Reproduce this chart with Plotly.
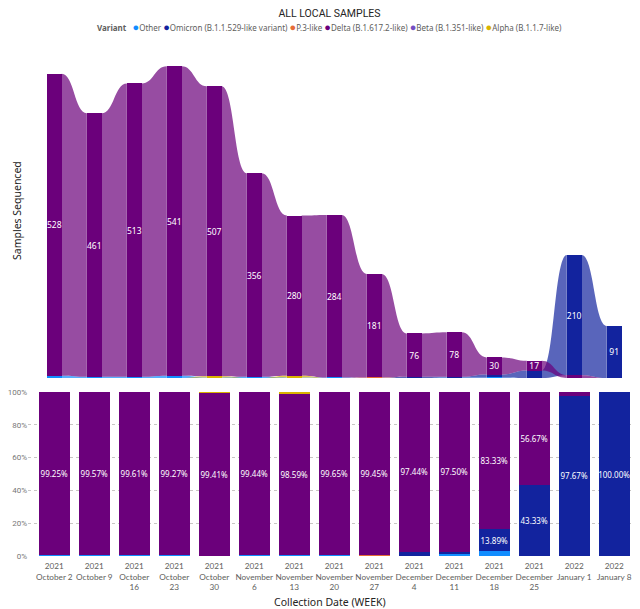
import numpy as np
import plotly.graph_objects as go

# weekly sample counts per variant
weeks = ["2021<br>October 2", "2021<br>October 9", "2021<br>October<br>16", "2021<br>October<br>23",
         "2021<br>October<br>30", "2021<br>November<br>6", "2021<br>November<br>13", "2021<br>November<br>20",
         "2021<br>November<br>27", "2021<br>December<br>4", "2021<br>December<br>11", "2021<br>December<br>18",
         "2021<br>December<br>25", "2022<br>January 1", "2022<br>January 8"]
other   = [4, 2, 2, 4, 1, 2, 1, 1, 0, 0, 1, 1, 0, 0, 0]
omicron = [0, 0, 0, 0, 0, 0, 0, 0, 0, 2, 1, 5, 13, 210, 91]
p3      = [0, 0, 0, 0, 0, 0, 0, 0, 1, 0, 0, 0, 0, 0, 0]
delta   = [528, 461, 513, 541, 507, 356, 280, 284, 181, 76, 78, 30, 17, 5, 0]
beta    = [0, 0, 0, 0, 0, 0, 0, 0, 0, 0, 0, 0, 0, 0, 0]
alpha   = [0, 0, 0, 0, 2, 0, 3, 0, 0, 0, 0, 0, 0, 0, 0]

names = ["Other", "Omicron (B.1.1.529-like variant)", "P.3-like", "Delta (B.1.617.2-like)",
         "Beta (B.1.351-like)", "Alpha (B.1.1.7-like)"]
colors = ["#118DFF", "#12239E", "#E66C37", "#6B007B", "#744EC2", "#D9B300"]

counts = np.array([other, omicron, p3, delta, beta, alpha], dtype=float)
n = counts.shape[1]
xs = np.arange(n)
share = counts / counts.sum(axis=0)

# ribbon chart: biggest variant on top in each week
base = np.zeros_like(counts)
for k in range(n):
    acc = 0
    for s in np.argsort(counts[:, k], kind="stable"):
        base[s, k] = acc
        acc += counts[s, k]

def rgba(hexc, a):
    h = hexc.lstrip("#")
    return "rgba(%d,%d,%d,%.2f)" % (int(h[0:2], 16), int(h[2:4], 16), int(h[4:6], 16), a)

FONT = "Noto Sans"
W, H = 624, 601   # page body has an 8px margin, right edge gets clipped
w_top, w_bot = 0.37, 0.77
fig = go.Figure()
shapes = []

for s in range(len(names)):
    c = counts[s]
    fig.add_trace(go.Bar(
        x=xs, y=c, base=base[s], width=w_top, marker_color=colors[s], marker_line_width=0,
        text=[f"{int(v)}" if v >= 15 else "" for v in c], textposition="inside",
        insidetextanchor="middle", textangle=0, textfont=dict(color="white", size=8.5, family=FONT),
        xaxis="x", yaxis="y", showlegend=False, name=names[s]))
    for k in range(n - 1):
        if c[k] == 0 and c[k + 1] == 0:
            continue
        x0, x1 = k + w_top / 2, k + 1 - w_top / 2
        xm = (x0 + x1) / 2
        b0, b1 = base[s, k], base[s, k + 1]
        t0, t1 = b0 + c[k], b1 + c[k + 1]
        path = (f"M {x0},{t0} C {xm},{t0} {xm},{t1} {x1},{t1} L {x1},{b1} "
                f"C {xm},{b1} {xm},{b0} {x0},{b0} Z")
        shapes.append(dict(type="path", path=path, xref="x", yref="y", layer="below",
                           fillcolor=rgba(colors[s], 0.7), line=dict(width=0)))

for s in range(len(names)):
    sh = share[s]
    fig.add_trace(go.Bar(
        x=xs, y=sh, width=w_bot, marker_color=colors[s], marker_line_width=0,
        text=[f"{v*100:.2f}%" if v >= 0.1 else "" for v in sh], textposition="inside",
        insidetextanchor="middle", textangle=0, textfont=dict(color="white", size=8, family=FONT),
        xaxis="x2", yaxis="y2", showlegend=False, name=names[s]))

legend_txt = "<b>Variant</b>   " + " ".join(
    f"<span style='color:{c};font-size:11px'>●</span>{nm}" for c, nm in zip(colors, names))

xr = [-0.657, 14.42]
fig.update_layout(
    width=W, height=H, barmode="stack",
    margin=dict(l=20, r=1, t=0, b=0),
    paper_bgcolor="white", plot_bgcolor="white",
    font=dict(family=FONT, color="#605E5C", size=9),
    uniformtext=dict(minsize=8, mode="show"),
    title=dict(text="ALL LOCAL SAMPLES", x=0.5, xref="paper", y=1 - 2 / H, yanchor="top",
               font=dict(family="Roboto", size=10.5, color="#252423")),
    shapes=shapes,
    xaxis=dict(domain=[0, 1], range=xr, anchor="y", showticklabels=False, showgrid=False,
               zeroline=False),
    yaxis=dict(domain=[1 - 370 / H, 1 - 32 / H], range=[0, 591], visible=False, showgrid=False),
    xaxis2=dict(domain=[0, 1], range=xr, anchor="y2", tickvals=xs, ticktext=weeks, tickangle=0,
                tickfont=dict(size=8.2, family="Lato", color="#605E5C"), showgrid=False,
                zeroline=False, automargin=False, ticks="outside", ticklen=2,
                tickcolor="rgba(0,0,0,0)", ticklabeloverflow="allow"),
    yaxis2=dict(domain=[1 - 548 / H, 1 - 384 / H], range=[0, 1], tickvals=[0, 0.2, 0.4, 0.6, 0.8, 1.0],
                tickformat=".0%", showgrid=True, gridcolor="#C8C6C4", griddash="dot",
                zeroline=False, tickfont=dict(size=8, family="Roboto", color="#777777"),
                automargin=False),
    annotations=[
        dict(text=legend_txt, x=0.5, y=1 - 19 / H, xref="paper", yref="paper",
             showarrow=False, xanchor="center", yanchor="middle",
             font=dict(size=8, color="#605E5C", family=FONT)),
        dict(text="Samples Sequenced", x=-20 / 603, y=1 - 203 / H, xref="paper", yref="paper",
             textangle=-90, showarrow=False, xanchor="left", yanchor="middle",
             font=dict(size=10.5, color="#252423", family=FONT)),
        dict(text="Collection Date (WEEK)", x=0.5, y=1 - 594 / H, xref="paper", yref="paper",
             showarrow=False, xanchor="center", yanchor="middle",
             font=dict(size=10.5, color="#252423", family=FONT)),
    ],
)

fig.write_html("out.html")
